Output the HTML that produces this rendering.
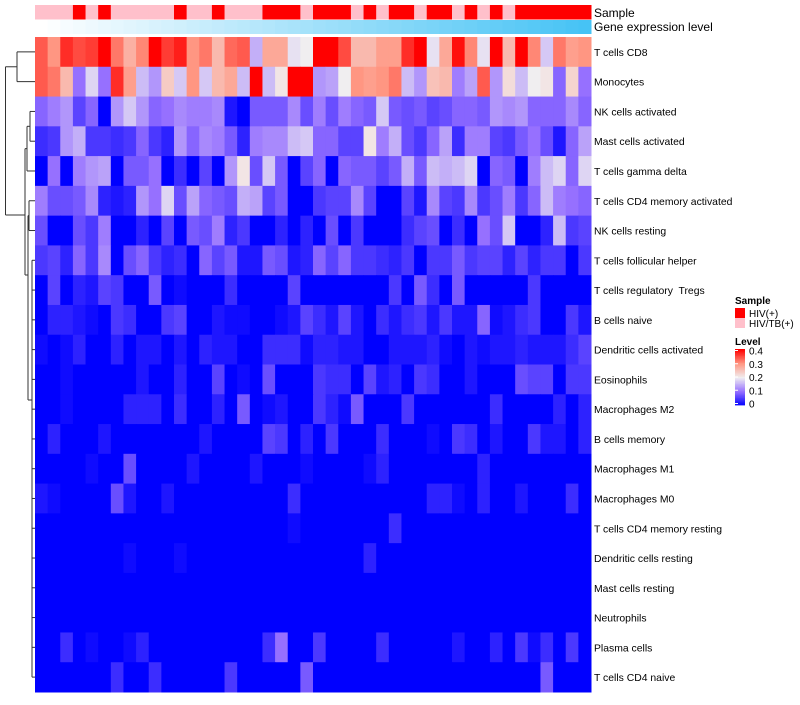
<!DOCTYPE html>
<html><head><meta charset="utf-8"><style>
body{margin:0;background:#fff;}
svg text{font-family:"Liberation Sans",sans-serif;white-space:pre;}
</style></head><body>
<svg id="chart" width="800" height="700" xmlns="http://www.w3.org/2000/svg"></svg>
<script>
const rowLabels=["T cells CD8","Monocytes","NK cells activated","Mast cells activated","T cells gamma delta","T cells CD4 memory activated","NK cells resting","T cells follicular helper","T cells regulatory  Tregs","B cells naive","Dendritic cells activated","Eosinophils","Macrophages M2","B cells memory","Macrophages M1","Macrophages M0","T cells CD4 memory resting","Dendritic cells resting","Mast cells resting","Neutrophils","Plasma cells","T cells CD4 naive"];
const sampleGroups="PPPRPRPPPPPRPPRPPPRRRPRRRPRPRRPRRPRPRPRRRRRR".split("");
const levelTicks=[0,0.1,0.2,0.3,0.4];
// values in hundredths
const r0=[34,30,37,35,36,40,32,27,31,40,36,38,30,32,26,33,34,15,28,28,19,20, 40,40,35,26,26,29,29,37,40,19,28,39,31,19,40,26,40,31,17,32,29,30];
const r1=[34,32,26,10,18,10,37,29,16,13,24,17,30,17,26,28,16,40,16,21,40,40, 13,14,20,30,29,30,32,16,13,25,26,11,14,34,13,22,16,20,21,9,23,10];
const r2=[9,11,13,6,9,0,13,17,13,9,10,12,11,11,12,2,0,8,8,8,12,7, 11,7,11,9,8,17,8,7,8,6,7,9,9,8,13,12,13,9,9,9,12,9];
const r3=[4,5,13,15,5,5,4,5,9,5,3,13,9,12,11,8,3,11,12,12,16,17, 9,9,6,6,21,11,15,7,5,9,14,4,11,11,6,5,8,10,7,2,9,14];
const r4=[0,10,0,11,13,14,0,8,8,10,0,4,0,6,0,13,21,7,17,8,0,6, 9,0,9,8,8,6,8,15,8,16,15,16,18,0,9,8,0,11,16,18,9,18];
const r5=[11,7,7,8,12,3,2,3,13,10,18,7,14,9,8,7,15,14,6,8,0,0, 5,6,6,12,6,0,0,6,2,12,6,5,12,5,7,11,5,9,16,11,10,9];
const r6=[7,0,0,7,5,11,0,0,3,0,6,0,8,7,11,3,5,0,0,3,0,3, 0,7,0,5,0,0,0,4,6,7,0,4,0,10,7,17,0,0,3,16,5,6];
const r7=[5,6,3,9,5,12,0,7,9,5,3,4,0,9,6,8,2,2,8,7,2,3, 9,6,9,5,5,4,3,5,0,5,5,8,5,6,6,3,6,3,5,5,0,5];
const r8=[0,6,0,3,2,6,5,0,0,8,0,1,0,0,0,4,0,0,0,0,6,0, 0,0,0,0,0,0,5,0,8,4,0,8,0,0,0,0,0,5,0,0,0,0];
const r9=[0,3,3,2,1,0,5,4,0,0,5,6,0,0,2,1,1,0,0,1,2,6, 4,2,6,2,0,4,2,4,5,2,5,2,2,9,1,2,4,5,0,0,5,2];
const r10=[1,0,1,3,0,0,3,0,2,2,0,2,0,3,2,2,0,0,4,4,4,1, 3,3,2,2,0,0,2,2,2,3,1,0,2,1,2,2,3,2,2,2,4,6];
const r11=[0,0,1,0,0,0,0,0,2,0,0,3,0,0,6,0,1,0,7,0,0,0, 5,4,4,0,6,2,3,0,5,4,0,0,2,0,0,0,7,6,6,0,5,5];
const r12=[0,0,1,0,0,0,0,3,3,3,0,4,0,0,3,0,8,0,1,2,0,0, 5,3,1,8,0,0,0,5,0,0,0,0,0,0,4,0,0,0,0,3,0,3];
const r13=[0,3,0,0,0,2,0,0,0,0,0,0,0,2,0,0,0,0,6,5,0,3, 0,5,0,0,0,4,0,0,0,1,0,5,4,0,2,0,0,5,2,2,0,3];
const r14=[0,0,0,0,1,0,0,7,0,0,0,0,2,0,0,0,0,2,0,0,0,1, 0,0,0,0,1,3,0,0,0,0,0,0,0,3,0,0,0,0,0,0,0,0];
const r15=[2,1,0,0,0,0,7,2,0,0,2,0,0,0,0,0,0,0,0,0,4,0, 0,0,0,0,0,0,0,0,0,3,3,1,0,3,0,0,2,0,0,0,4,0];
const r16=[0,0,0,0,0,0,0,0,0,0,0,0,0,0,0,0,0,0,0,0,1,0, 0,0,0,0,0,0,4,0,0,0,0,0,0,0,0,0,0,0,0,0,0,0];
const r17=[0,0,0,0,0,0,0,1,0,0,0,1,0,0,0,0,0,0,0,0,0,0, 0,0,0,0,3,0,0,0,0,0,0,0,0,0,0,0,0,0,0,0,0,0];
const r18=[0,0,0,0,0,0,0,0,0,0,0,0,0,0,0,0,0,0,0,0,0,0, 0,0,0,0,0,0,0,0,0,0,0,0,0,0,0,0,0,0,0,0,0,0];
const r19=[0,0,0,0,0,0,0,0,0,0,0,0,0,0,0,0,0,0,0,0,0,0, 0,0,0,0,0,0,0,0,0,0,0,0,0,0,0,0,0,0,0,0,0,0];
const r20=[0,0,4,0,1,0,0,1,3,0,0,0,0,0,0,0,0,0,4,10,0,0, 5,0,0,0,0,4,0,0,0,0,0,2,0,0,3,0,5,1,4,0,5,0];
const r21=[0,0,0,0,0,0,4,0,0,4,0,0,0,0,0,5,0,0,0,0,0,8, 0,0,0,0,0,0,0,0,0,0,0,0,0,0,0,0,0,0,8,0,0,0];
const values=[r0,r1,r2,r3,r4,r5,r6,r7,r8,r9,r10,r11,r12,r13,r14,r15,r16,r17,r18,r19,r20,r21];

const NS="http://www.w3.org/2000/svg";
const svg=document.getElementById("chart");
const X0=35,X1=591,Y0=37,Y1=692;
const nC=values[0].length,nR=values.length;
const cw=(X1-X0)/nC,rh=(Y1-Y0)/nR;
const xPos=c=>X0+c*cw, yPos=r=>Y0+r*rh;
const stops=[[0,[0,0,255]],[10,[150,112,255]],[20,[240,238,240]],[30,[255,150,130]],[40,[255,0,0]]];
function color(v){v=Math.max(0,Math.min(40,v));
 for(let i=0;i<stops.length-1;i++){const [a,ca]=stops[i],[b,cb]=stops[i+1];
  if(v<=b){const t=(v-a)/(b-a);return "rgb("+ca.map((x,k)=>Math.round(x+(cb[k]-x)*t)).join(",")+")";}}
 return "rgb(255,0,0)";}
function mk(tag,attrs){const e=document.createElementNS(NS,tag);for(const k in attrs)e.setAttribute(k,attrs[k]);svg.appendChild(e);return e;}

sampleGroups.forEach((g,c)=>{const e=mk("rect",{x:xPos(c),y:5,width:cw+0.5,height:14.5,fill:g==="R"?"#ff0000":"#ffc0cb"});

});
for(let c=0;c<nC;c++){const t=c/(nC-1);
const e=mk("rect",{x:xPos(c),y:20,width:cw+0.5,height:14,fill:`rgb(${Math.round(255-185*t)},${Math.round(255-60*t)},${Math.round(255-10*t)})`});

}
let t1=mk("text",{x:594,y:17,"font-size":12,fill:"#000"});t1.textContent="Sample";


let t2=mk("text",{x:594,y:31,"font-size":12,fill:"#000"});t2.textContent="Gene expression level";



values.forEach((row,r)=>row.forEach((v,c)=>{
 const e=mk("rect",{x:xPos(c),y:yPos(r),width:cw+0.5,height:rh+0.5,fill:color(v)});
 
 
}));
rowLabels.forEach((l,r)=>{const e=mk("text",{x:594,y:yPos(r)+rh/2+4,"font-size":10.4,fill:"#000"});e.textContent=l;

});

// dendrogram (approximate, elbow segments only)
const yc=r=>yPos(r)+rh/2;
const m01=(yc(0)+yc(1))/2, m23=(yc(2)+yc(3))/2, m234=(m23+yc(4))/2, m56=(yc(5)+yc(6))/2;
const segs=[
[17,yc(0),17,yc(1)],[17,yc(0),35,yc(0)],[17,yc(1),35,yc(1)],
[5.5,m01,17,m01],[5.5,m01,5.5,215],[5.5,215,25,215],
[30,yc(2),30,yc(3)],[30,yc(2),35,yc(2)],[30,yc(3),35,yc(3)],
[27,m23,27,yc(4)],[27,m23,30,m23],[27,yc(4),35,yc(4)],
[29,yc(5),29,yc(6)],[29,yc(5),35,yc(5)],[29,yc(6),35,yc(6)],
[25,m234,25,275],[25,m234,27,m234],[25,275,28,275],
[28,m56,28,400],[28,m56,29,m56],[28,400,32,400],
[32,yc(7),32,yc(21)]];
for(let r=7;r<nR;r++)segs.push([32,yc(r),35,yc(r)]);
segs.forEach(s=>{const e=mk("line",{x1:s[0],y1:s[1],x2:s[2],y2:s[3],stroke:"#333","stroke-width":1});

});

let ls=mk("text",{x:735,y:304,"font-size":10,"font-weight":"bold"});ls.textContent="Sample";


[["#ff0000","HIV(+)"],["#ffc0cb","HIV/TB(+)"]].forEach((d,i)=>{
 const b=mk("rect",{x:735,y:308+i*10,width:10,height:10,fill:d[0]});
 
 
 const t=mk("text",{x:749,y:317+i*10,"font-size":10});t.textContent=d[1];
 
 });
let ll=mk("text",{x:735,y:345,"font-size":10,"font-weight":"bold"});ll.textContent="Level";


const by0=349,by1=405;
for(let i=0;i<40;i++){const v=40-i;const e=mk("rect",{x:735,y:by0+i*(by1-by0)/40,width:10,height:(by1-by0)/40+0.4,fill:color(v)});

}
levelTicks.forEach(v=>{const y=by1-(v/0.4)*(by1-by0-3)-1.5;
 const t=mk("text",{x:749,y:y+4,"font-size":10});t.textContent=String(v);
 
 
 const l=mk("line",{x1:735,x2:738,y1:y,y2:y,stroke:"#fff"});
 
 });
</script>
</body></html>
